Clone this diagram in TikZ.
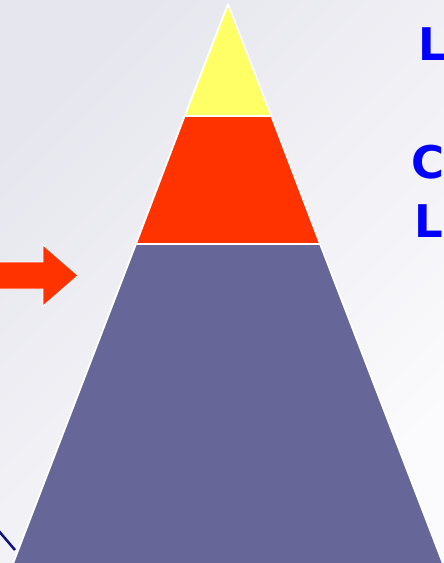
\documentclass[tikz,border=0pt]{standalone}
\usepackage{fontspec}
\setmainfont{DejaVu Sans}
\definecolor{tipyellow}{HTML}{FFFF66}
\definecolor{midred}{HTML}{FF3300}
\definecolor{baseslate}{HTML}{666699}
\definecolor{bgdark}{HTML}{E6E6EE}
\definecolor{bglight}{HTML}{FBFBFD}
\definecolor{navyline}{HTML}{10107F}
\tikzset{
  tier/.style={draw=white, line width=1.8pt, line join=round},
  caption/.style={anchor=base west, inner sep=0pt, text=blue,
    font=\fontsize{45}{54}\selectfont\bfseries},
}
\begin{document}
\begin{tikzpicture}[x=1pt,y=-1pt]
\useasboundingbox (0,0) rectangle (444,563);
\clip (0,0) rectangle (444,563);
% background
\shade[top color=bgdark, bottom color=bglight, shading angle=45] (0,0) rectangle (444,563);
% pyramid
\filldraw[tier, fill=baseslate] (135.9,244) -- (320.1,244) -- (447,574) -- (9,574) -- cycle;
\filldraw[tier, fill=midred] (184.6,116) -- (271.4,116) -- (320.1,244) -- (135.9,244) -- cycle;
\filldraw[tier, fill=tipyellow] (228,4) -- (271.4,116) -- (184.6,116) -- cycle;
% arrow
\filldraw[draw=white, line width=0.8pt, fill=midred]
  (-3,262) -- (43,262) -- (43,245) -- (78,275.5) -- (43,306) -- (43,289) -- (-3,289) -- cycle;
% line at the corner
\coordinate (lineA) at (-2,530);
\coordinate (lineB) at (15,550);
\draw[navyline, line width=2.5pt] (lineA) -- (lineB);
% captions
\node[caption] (capone) at (418,60) {L};
\node[caption] (captwo) at (411,178) {C};
\node[caption] (capthree) at (414,237) {L};
\end{tikzpicture}
\end{document}
